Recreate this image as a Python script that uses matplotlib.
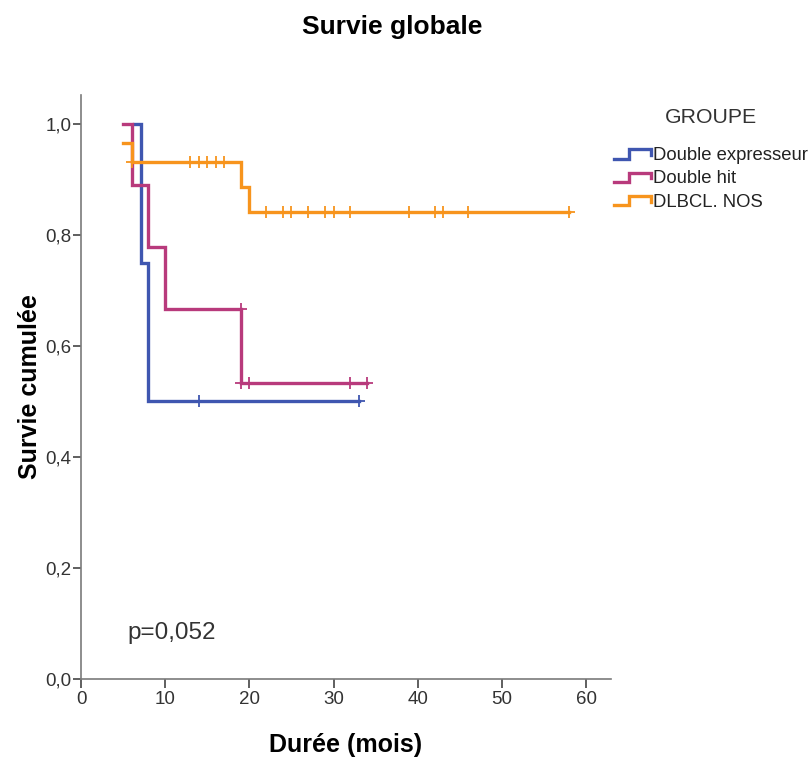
import matplotlib.pyplot as plt
from matplotlib.legend_handler import HandlerBase
from matplotlib.lines import Line2D
from matplotlib.ticker import FuncFormatter

plt.rcParams['font.family'] = ['Liberation Sans', 'DejaVu Sans']

# Kaplan-Meier steps (time in months, cumulative survival)
groups = ['Double expresseur', 'Double hit', 'DLBCL. NOS']
colors = ['#3F56B0', '#B83A7C', '#F7941D']

de_time = [6.3, 7.1, 8, 33]
de_surv = [1.0, 0.75, 0.5, 0.5]
de_cens_time = [14, 33]
de_cens_surv = [0.5, 0.5]

dh_time = [5, 6, 8, 10, 19, 34]
dh_surv = [1.0, 0.889, 0.778, 0.667, 0.533, 0.533]
dh_cens_time = [19, 19, 20, 32, 34]
dh_cens_surv = [0.667, 0.533, 0.533, 0.533, 0.533]

nos_time = [5, 6, 19, 20, 58]
nos_surv = [0.966, 0.931, 0.887, 0.842, 0.842]
nos_cens_time = [6, 13, 14, 15, 16, 17, 22, 24, 25, 27, 29, 30, 32, 39, 42, 43, 46, 58]
nos_cens_surv = [0.931] * 6 + [0.842] * 12

curves = [
    (de_time, de_surv, de_cens_time, de_cens_surv),
    (dh_time, dh_surv, dh_cens_time, dh_cens_surv),
    (nos_time, nos_surv, nos_cens_time, nos_cens_surv),
]


class StepHandler(HandlerBase):
    # little step icon like the SPSS legend
    def create_artists(self, legend, orig_handle, xdescent, ydescent,
                       width, height, fontsize, trans):
        x0, x1 = -xdescent, -xdescent + width
        xm = x0 + 0.42 * width
        ylo = -ydescent + 0.1 * height
        yhi = -ydescent + 0.8 * height
        xs = [x0, xm, xm, x1, x1]
        ys = [ylo, ylo, yhi, yhi, ylo + 0.3 * height]
        line = Line2D(xs, ys, color=orig_handle.get_color(), lw=2.4,
                      solid_joinstyle='miter', transform=trans)
        return [line]


fig = plt.figure(figsize=(8.11, 7.58), dpi=100)
ax = fig.add_axes([0.0999, 0.1042, 0.6535, 0.7705])

handles = []
for (t, s, ct, cs), name, col in zip(curves, groups, colors):
    h, = ax.step(t, s, where='post', color=col, lw=2.4, label=name,
                 solid_joinstyle='miter')
    ax.plot(ct, cs, ls='none', marker='+', ms=9, mew=1.3, color=col)
    handles.append(h)

ax.set_xlim(0, 62.95)
ax.set_ylim(0, 1.052)
ax.set_xticks(range(0, 61, 10))
ax.set_yticks([0, 0.2, 0.4, 0.6, 0.8, 1.0])
ax.yaxis.set_major_formatter(FuncFormatter(lambda v, p: f'{v:.1f}'.replace('.', ',')))

for side in ['top', 'right']:
    ax.spines[side].set_visible(False)
for side in ['left', 'bottom']:
    ax.spines[side].set_color('#7a7a7a')
    ax.spines[side].set_linewidth(1.2)
ax.tick_params(axis='x', length=6.5, width=1.2, color='#444444',
               labelsize=13.5, labelcolor='#333333', pad=2)
ax.tick_params(axis='y', length=6, width=1.2, color='#444444',
               labelsize=13.5, labelcolor='#333333', pad=1)

ax.set_xlabel('Durée (mois)', fontsize=18, fontweight='bold', labelpad=18)
ax.set_ylabel('Survie cumulée', fontsize=18, fontweight='bold', labelpad=2)
fig.text(0.484, 0.965, 'Survie globale', ha='center', va='center',
         fontsize=19, fontweight='bold')

ax.text(5.5, 0.083, 'p=0,052', fontsize=17.5, color='#333333', va='center')

leg = fig.legend(handles=handles, labels=groups, title='GROUPE',
                 handler_map={Line2D: StepHandler()},
                 loc='upper left', bbox_to_anchor=(0.757, 0.857),
                 frameon=False, fontsize=13.3, title_fontsize=15.3,
                 handlelength=2.0, handletextpad=0.1, labelspacing=0.35,
                 borderaxespad=0, borderpad=0)
leg.get_title().set_color('#333333')
leg._legend_box.sep = 14
for txt in leg.get_texts():
    txt.set_color('#222222')

fig.savefig('out.png', dpi=100)
